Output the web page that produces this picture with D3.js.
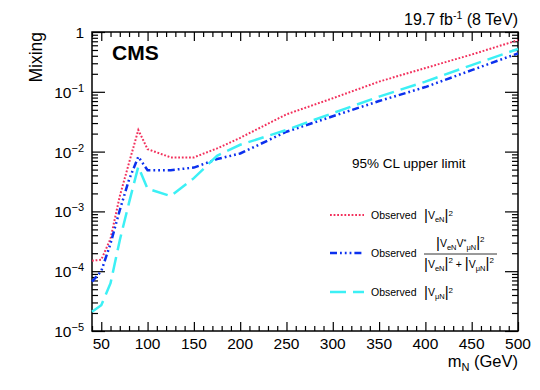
<!DOCTYPE html>
<html>
<head>
<meta charset="utf-8">
<script src="https://cdn.jsdelivr.net/npm/d3@7"></script>
<style>
  body { margin: 0; background: #fff; }
  svg { font-family: "Liberation Sans", Arial, sans-serif; }
</style>
</head>
<body>
<div id="chart"></div>
<script>
// Heavy neutrino mass points (GeV)
const massPoints = [40, 50, 60, 70, 80, 90, 100, 125, 150, 175, 200, 250, 300, 350, 400, 450, 500];
// Observed limits
const limitVeN = [1.5e-4, 1.55e-4, 3.5e-4, 1.8e-3, 6.5e-3, 2.3e-2, 1.1e-2, 8.0e-3, 8.0e-3, 1.13e-2, 1.7e-2, 4.2e-2, 7.8e-2, 0.148, 0.25, 0.42, 0.73];
const limitMixed = [6.7e-5, 1.0e-4, 2.9e-4, 1.05e-3, 3.4e-3, 8.2e-3, 4.9e-3, 4.9e-3, 5.4e-3, 7.5e-3, 9.3e-3, 2.15e-2, 3.9e-2, 0.07, 0.12, 0.23, 0.44];
const limitVmuN = [2.1e-5, 2.7e-5, 6.3e-5, 3.3e-4, 1.4e-3, 5.6e-3, 2.4e-3, 1.8e-3, 3.6e-3, 8.5e-3, 1.3e-2, 2.3e-2, 4.4e-2, 0.083, 0.148, 0.28, 0.52];

const xTicks = [50, 100, 150, 200, 250, 300, 350, 400, 450, 500];
const yDecades = [-5, -4, -3, -2, -1, 0];

const width = 540, height = 390;
const margin = { top: 32, right: 22, bottom: 59, left: 92 };

const svg = d3.select("#chart").append("svg")
    .attr("width", width)
    .attr("height", height);

const x = d3.scaleLinear().domain([40, 500]).range([margin.left, width - margin.right]);
const y = d3.scaleLog().domain([1e-5, 1]).range([height - margin.bottom, margin.top]);

// minor ticks
const xMinor = d3.range(40, 501, 10).filter(v => v % 50 !== 0);
const yMinor = [];
yDecades.slice(0, -1).forEach(e => { for (let k = 2; k <= 9; k++) yMinor.push(k * Math.pow(10, e)); });
const yMajor = yDecades.map(e => Math.pow(10, e));

const x0 = margin.left, x1 = width - margin.right;
const y0 = height - margin.bottom, y1 = margin.top;

// axes, ticks pointing inwards like ROOT
const axisG = svg.append("g");
axisG.append("g").attr("transform", `translate(0,${y0})`)
    .call(d3.axisBottom(x).tickValues(xTicks).tickSize(-9).tickFormat(""));
axisG.append("g").attr("transform", `translate(0,${y0})`)
    .call(d3.axisBottom(x).tickValues(xMinor).tickSize(-5).tickFormat(""));
axisG.append("g").attr("transform", `translate(0,${y1})`)
    .call(d3.axisTop(x).tickValues(xTicks).tickSize(-9).tickFormat(""));
axisG.append("g").attr("transform", `translate(0,${y1})`)
    .call(d3.axisTop(x).tickValues(xMinor).tickSize(-5).tickFormat(""));
axisG.append("g").attr("transform", `translate(${x0},0)`)
    .call(d3.axisLeft(y).tickValues(yMajor).tickSize(-13).tickFormat(""));
axisG.append("g").attr("transform", `translate(${x0},0)`)
    .call(d3.axisLeft(y).tickValues(yMinor).tickSize(-6).tickFormat(""));
axisG.append("g").attr("transform", `translate(${x1},0)`)
    .call(d3.axisRight(y).tickValues(yMajor).tickSize(-13).tickFormat(""));
axisG.append("g").attr("transform", `translate(${x1},0)`)
    .call(d3.axisRight(y).tickValues(yMinor).tickSize(-6).tickFormat(""));
axisG.selectAll(".domain").remove();
axisG.selectAll("line").attr("stroke", "#000").attr("stroke-width", 1.2);

svg.append("rect")
    .attr("x", x0).attr("y", y1)
    .attr("width", x1 - x0).attr("height", y0 - y1)
    .attr("fill", "none").attr("stroke", "#000").attr("stroke-width", 1.5);

// tick labels
svg.selectAll(".xlab").data(xTicks).enter().append("text")
    .attr("x", d => x(d)).attr("y", y0 + 18)
    .attr("text-anchor", "middle").attr("font-size", "15.5px")
    .text(d => d);

yDecades.forEach(e => {
    const t = svg.append("text")
        .attr("x", x0 - 8).attr("y", y(Math.pow(10, e)) + 6)
        .attr("text-anchor", "end").attr("font-size", "15.5px");
    if (e === 0) { t.text("1"); return; }
    t.append("tspan").text("10");
    t.append("tspan").attr("dy", -6).attr("font-size", "11px").text("\u2212" + (-e));
});

// axis titles
const xt = svg.append("text").attr("x", x1).attr("y", 367)
    .attr("text-anchor", "end").attr("font-size", "16.5px");
xt.append("tspan").text("m");
xt.append("tspan").attr("dy", 4).attr("font-size", "11px").text("N");
xt.append("tspan").attr("dy", -4).text(" (GeV)");

svg.append("text")
    .attr("transform", `translate(42,${y1}) rotate(-90)`)
    .attr("text-anchor", "end").attr("font-size", "17.5px")
    .text("Mixing");

const lumi = svg.append("text").attr("x", x1).attr("y", 25)
    .attr("text-anchor", "end").attr("font-size", "16px");
lumi.append("tspan").text("19.7 fb");
lumi.append("tspan").attr("dy", -6).attr("font-size", "10.5px").text("-1");
lumi.append("tspan").attr("dy", 6).text(" (8 TeV)");

svg.append("text").attr("x", 112).attr("y", 60)
    .attr("font-size", "21px").attr("font-weight", "bold").text("CMS");

svg.append("text").attr("x", 352).attr("y", 168)
    .attr("font-size", "13.5px").text("95% CL upper limit");

// curves
const series = [
    { values: limitVeN, color: "#f2305c", width: 2, dash: "1.8,1.8" },
    { values: limitMixed, color: "#0b30ee", width: 2.5, dash: "7,3,1.8,3,1.8,3,1.8,3" },
    { values: limitVmuN, color: "#3cf0f5", width: 2.5, dash: "16,7" }
];

const line = d3.line().x(d => x(d[0])).y(d => y(d[1]));
const plot = svg.append("g");
series.forEach(s => {
    plot.append("path")
        .datum(massPoints.map((m, i) => [m, s.values[i]]))
        .attr("d", line)
        .attr("fill", "none")
        .attr("stroke", s.color)
        .attr("stroke-width", s.width)
        .attr("stroke-dasharray", s.dash);
});

// legend
const legRows = [215, 253, 292];
const lx0 = 330, lx1 = 364, tx = 371;
series.forEach((s, i) => {
    svg.append("line")
        .attr("x1", lx0).attr("x2", lx1)
        .attr("y1", legRows[i]).attr("y2", legRows[i])
        .attr("stroke", s.color).attr("stroke-width", s.width)
        .attr("stroke-dasharray", s.dash);
    svg.append("text").attr("x", tx).attr("y", legRows[i] + 4)
        .attr("font-size", "10.5px").text("Observed");
});

// |V_xN|^2 helper
function absSq(g, xPos, yBase, sub) {
    const t = g.append("text").attr("x", xPos).attr("y", yBase).attr("font-size", "10.5px");
    t.append("tspan").attr("font-size", "15px").attr("dy", 1).text("|");
    t.append("tspan").attr("dy", -1).text("V");
    t.append("tspan").attr("dy", 3).attr("font-size", "7.5px").text(sub);
    t.append("tspan").attr("font-size", "15px").attr("dy", -2).text("|");
    t.append("tspan").attr("dy", -4).attr("font-size", "8px").text("2");
    return t;
}

absSq(svg, 424, legRows[0] + 4, "eN");
absSq(svg, 424, legRows[2] + 4, "\u03bcN");

// fraction
const num = svg.append("text").attr("x", 436).attr("y", 247).attr("font-size", "10.5px");
num.append("tspan").attr("font-size", "15px").attr("dy", 1).text("|");
num.append("tspan").attr("dy", -1).text("V");
num.append("tspan").attr("dy", 3).attr("font-size", "7.5px").text("eN");
num.append("tspan").attr("dy", -3).text("V");
num.append("tspan").attr("dy", -3).attr("font-size", "7.5px").text("*");
num.append("tspan").attr("dy", 6).attr("font-size", "7.5px").text("\u03bcN");
num.append("tspan").attr("dy", -3).attr("font-size", "15px").text("|");
num.append("tspan").attr("dy", -5).attr("font-size", "8px").text("2");

svg.append("line").attr("x1", 424).attr("x2", 497).attr("y1", 254).attr("y2", 254)
    .attr("stroke", "#000").attr("stroke-width", 0.8);

const den = svg.append("text").attr("x", 424).attr("y", 268).attr("font-size", "10.5px");
den.append("tspan").attr("font-size", "15px").attr("dy", 1).text("|");
den.append("tspan").attr("dy", -1).text("V");
den.append("tspan").attr("dy", 3).attr("font-size", "7.5px").text("eN");
den.append("tspan").attr("dy", -3).attr("font-size", "15px").text("|");
den.append("tspan").attr("dy", -5).attr("font-size", "8px").text("2");
den.append("tspan").attr("dy", 5).text(" + ");
den.append("tspan").attr("font-size", "15px").text("|");
den.append("tspan").text("V");
den.append("tspan").attr("dy", 3).attr("font-size", "7.5px").text("\u03bcN");
den.append("tspan").attr("dy", -3).attr("font-size", "15px").text("|");
den.append("tspan").attr("dy", -5).attr("font-size", "8px").text("2");
</script>
</body>
</html>
